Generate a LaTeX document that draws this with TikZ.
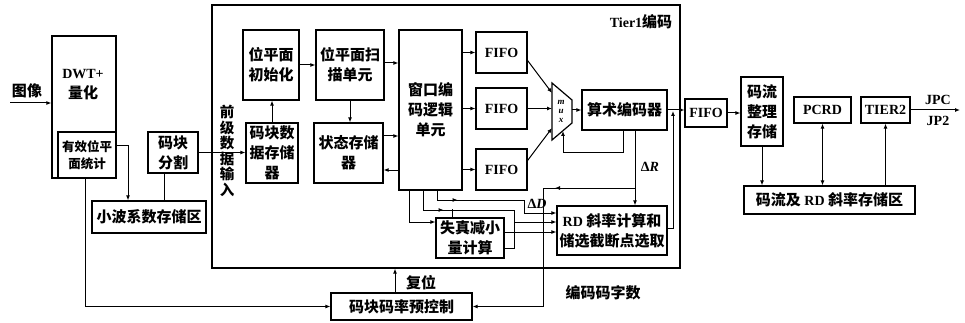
\documentclass[tikz,border=0pt]{standalone}
\usepackage{fontspec}
\setmainfont{Liberation Serif}
\newfontfamily\cjk{Noto Sans CJK SC}
\usetikzlibrary{arrows.meta,decorations.markings}
\newcommand{\zhfont}{\cjk\bfseries\fontsize{15}{20}\selectfont}
\newcommand{\zhsmall}{\cjk\bfseries\fontsize{12.5}{17}\selectfont}
\newcommand{\latfont}{\rmfamily\bfseries\fontsize{14}{16}\selectfont}

\begin{document}
\begin{tikzpicture}[x=1pt,y=-1pt,line width=1pt,>={Latex[length=5pt,width=4pt]},
    midarr/.style={postaction={decorate},decoration={markings,mark=at position #1 with {\arrow{>}}}}]
  \tikzstyle{blk}=[draw,line width=1.2pt,inner sep=0pt,align=center,font=\zhfont]
  \tikzstyle{txt}=[inner sep=0pt,align=center,font=\zhfont]
  \useasboundingbox (0,0) rectangle (965,323);
  % left part
  \node[txt] (img) at (27,91) {图像};
  \coordinate (imgin) at (10,103);
  \node[blk,minimum width=64pt,minimum height=142pt] (dwt) at (84,107) {};
  \node[txt] (dwtt) at (83,85) {{\latfont DWT+}\\量化};
  \node[blk,font=\zhsmall,minimum width=58pt,minimum height=46pt] (eff) at (87,155) {有效位平\\面统计};
  \node[blk,minimum width=50pt,minimum height=41pt] (seg) at (173,152.5) {码块\\分割};
  \node[blk,minimum width=114pt,minimum height=32pt] (wav) at (149,217) {小波系数存储区};
  \node[txt,font=\cjk\bfseries\fontsize{14.5}{15.5}\selectfont] (pre) at (227,151) {前\\级\\数\\据\\输\\入};
  % tier1
  \node[draw,line width=1.2pt,minimum width=468pt,minimum height=263pt] (tier) at (446,136.5) {};
  \node[txt] (t1) at (641,22) {{\latfont Tier1}编码};
  \node[blk,minimum width=56pt,minimum height=70pt] (init) at (271,65) {位平面\\初始化};
  \node[blk,minimum width=68pt,minimum height=70pt] (scan) at (350,65) {位平面扫\\描单元};
  \node[blk,minimum width=52pt,minimum height=60pt] (cbm) at (272,153) {码块数\\据存储\\器};
  \node[blk,minimum width=69pt,minimum height=60pt] (state) at (348.5,153) {状态存储\\器};
  \node[blk,minimum width=63pt,minimum height=160pt] (win) at (430.5,110) {窗口编\\码逻辑\\单元};
  \foreach \f/\y in {fa/52.5,fb/108.5,fc/169.5}
    \node[blk,font=\latfont,minimum width=51pt,minimum height=41pt] (\f) at (501.5,\y) {FIFO};
  \draw[line width=1.2pt] (552,83) -- (572,100) -- (572,123) -- (552,140) -- cycle;
  \node[inner sep=0pt,align=center,font=\bfseries\itshape\fontsize{9}{9}\selectfont] (muxt) at (561,111) {m\\u\\x};
  \coordinate (mi1) at (552,93);
  \coordinate (mi2) at (552,108.5);
  \coordinate (mi3) at (552,128);
  \coordinate (mo) at (572,110);
  \coordinate (mb) at (563,131);
  \node[blk,minimum width=85pt,minimum height=40pt] (ari) at (624.5,110) {算术编码器};
  \node[blk,minimum width=110pt,minimum height=49pt] (rd) at (612,230.5) {{\latfont RD} 斜率计算和\\储选截断点选取};
  \node[blk,minimum width=68pt,minimum height=40pt] (dist) at (470,238) {失真减小\\量计算};
  \node[txt,font=\latfont] (dr) at (650,167) {Δ\itshape R};
  \node[txt,font=\latfont] (dd) at (537,204) {Δ\itshape D};
  % bottom
  \node[blk,minimum width=141pt,minimum height=27pt] (ctrl) at (401.5,306.5) {码块码率预控制};
  \node[txt] (reset) at (421,283) {复位};
  \node[txt] (cwl) at (603,293) {编码码字数};
  % right part
  \node[blk,font=\latfont,minimum width=42pt,minimum height=28pt] (ffo) at (706,113) {FIFO};
  \node[blk,minimum width=42pt,minimum height=69pt] (org) at (762,111.5) {码流\\整理\\存储};
  \node[blk,font=\latfont,minimum width=57pt,minimum height=26pt] (pcrd) at (822.5,110) {PCRD};
  \node[blk,font=\latfont,minimum width=49pt,minimum height=26pt] (t2) at (885.5,110) {TIER2};
  \node[blk,minimum width=171pt,minimum height=28pt] (sto) at (829.5,200) {码流及 {\latfont RD} 斜率存储区};
  \node[txt,font=\latfont] (jpc) at (938,100) {JPC};
  \node[txt,font=\latfont] (jp2) at (938,121) {JP2};
  \coordinate (out) at (960,110);
  % connectors left
  \draw[->] (imgin) -- (imgin -| dwt.west);
  \draw[->] ([yshift=9pt]eff.east) -| ([xshift=-21pt]wav.north);
  \draw ([xshift=-9pt]seg.south) -- ([xshift=-9pt]seg.south |- wav.north);
  \draw[->] (seg.east) -- (seg.east -| cbm.west);
  \draw[->] ([xshift=-2pt]eff.south) |- (ctrl.west);
  \draw[->] ([xshift=-6.5pt]ctrl.north) -- ([xshift=-6.5pt]ctrl.north |- tier.south);
  % connectors tier1
  \draw[->] (cbm.north) -- (cbm.north |- init.south);
  \draw[->] (init.east) -- (init.east -| scan.west);
  \draw[->] ([yshift=2pt]scan.east) -- ([yshift=2pt]scan.east -| win.west);
  \draw[->] (scan.south) -- (scan.south |- state.north);
  \draw[->] ([yshift=17pt]state.east) -- ([yshift=17pt]state.east -| win.west);
  \draw[<-] ([yshift=-17pt]state.east) -- ([yshift=-17pt]state.east -| win.west);
  \foreach \f in {fa,fb,fc}
    \draw[->] (\f.west -| win.east) -- (\f.west);
  \draw[->] ([yshift=-8pt]fa.east) -- (mi1);
  \draw[->] (fb.east) -- (mi2);
  \draw[->] ([yshift=9pt]fc.east) -- (mi3);
  \draw[->] (mo) -- (mo -| ari.west);
  \draw[->] ([xshift=-1.5pt]ari.south) -- ++(0,22) -| (mb);
  \draw[->] ([xshift=10.5pt]ari.south) -- ([xshift=10.5pt]ari.south |- rd.north);
  \coordinate (cw) at (635,188);
  \draw[->,midarr=80pt] (cw) -- (543,188) |- (ctrl.east);
  \draw[->] ([xshift=-21.5pt]win.south) |- ([yshift=16pt]dist.west);
  \draw[->,midarr=40pt] ([xshift=-7.5pt]win.south) |- (514,210) |- ([yshift=8.5pt]rd.west);
  \draw ([xshift=-18pt]dist.north) -- ++(0,-8);
  \draw[->,midarr=30pt] ([xshift=6.5pt]win.south) |- (524,200) |- ([yshift=17.5pt]rd.west);
  \draw[->] ([yshift=6pt]dist.east) -- ([yshift=6pt]dist.east -| rd.west);
  \draw ([yshift=-10pt]dist.east) -| (514,222);
  \coordinate (jn) at (673,111);
  \draw[->] ([yshift=2pt]rd.east) -| (jn);
  \draw[->] (ari.east) -- (ari.east -| ffo.west);
  \fill (tier.east |- ari.east) circle (1.8pt);
  % connectors right
  \draw[->] (ffo.east) -- (ffo.east -| org.west);
  \draw[->] (org.south) -- (org.south |- sto.north);
  \draw[<->] (pcrd.south) -- (pcrd.south |- sto.north);
  \draw[->] (sto.north -| t2.south) -- (t2.south);
  \draw[->] (t2.east) -- (out);
\end{tikzpicture}
\end{document}
